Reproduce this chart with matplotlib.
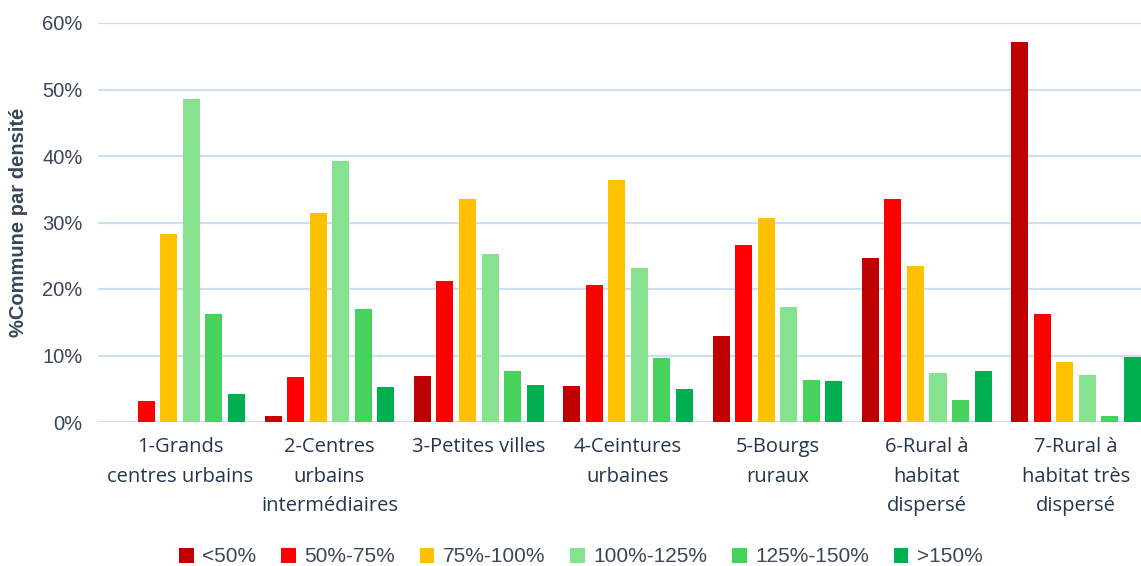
import matplotlib.pyplot as plt
import numpy as np

categories = ['1-Grands\ncentres urbains', '2-Centres\nurbains\nintermédiaires',
              '3-Petites villes', '4-Ceintures\nurbaines', '5-Bourgs\nruraux',
              '6-Rural à\nhabitat\ndispersé', '7-Rural à\nhabitat très\ndispersé']
series = ['<50%', '50%-75%', '75%-100%', '100%-125%', '125%-150%', '>150%']
colors = ['#C00000', '#FF0000', '#FFC000', '#87E28F', '#46D35B', '#00B050']

# % of communes per density band, one list per band (across the 7 categories)
values = [
    [0.0, 0.9, 6.9, 5.4, 12.9, 24.7, 57.1],
    [3.1, 6.7, 21.2, 20.6, 26.6, 33.5, 16.2],
    [28.2, 31.4, 33.5, 36.4, 30.7, 23.5, 9.0],
    [48.5, 39.2, 25.3, 23.1, 17.3, 7.3, 7.1],
    [16.2, 17.0, 7.7, 9.6, 6.3, 3.3, 0.9],
    [4.2, 5.2, 5.6, 5.0, 6.2, 7.7, 9.8],
]

text_col = '#3A4658'
cat_col = '#24364D'
grid_col = '#CDDFF3'

fig = plt.figure(figsize=(11.41, 5.66), dpi=100)
ax = fig.add_axes([98 / 1141, 1 - 422 / 566, 1 - 98 / 1141, (422 - 23) / 566])

x = np.arange(len(categories))
step = 0.151
width = 0.114
for i, (name, vals, c) in enumerate(zip(series, values, colors)):
    ax.bar(x + (i - 2.5) * step, np.array(vals) / 100, width, color=c, label=name, zorder=3)

ax.set_ylim(0, 0.6)
ax.set_xlim(-0.55, 6.435)
ax.set_yticks(np.arange(0, 0.61, 0.1))
ax.set_yticklabels([f'{int(round(v * 100))}%' for v in np.arange(0, 0.61, 0.1)],
                   fontsize=14.5, color=text_col, family='Liberation Sans')
ax.set_xticks(x)
ax.set_xticklabels(categories, fontsize=14.5, color=cat_col, family='Open Sans', linespacing=1.62)
ax.tick_params(axis='both', length=0)
ax.tick_params(axis='y', pad=11)
ax.tick_params(axis='x', pad=11)
ax.grid(axis='y', color=grid_col, linewidth=1.6, zorder=0)
for s in ax.spines.values():
    s.set_visible(False)

fig.text(19 / 1141, 1 - 222 / 566, '%Commune par densité', rotation=90, ha='center',
         va='center', fontsize=14.5, fontweight='bold', color=text_col, family='Liberation Sans')

fig.legend(loc='center', bbox_to_anchor=(0.509, 1 - 557 / 566), ncol=6, frameon=False,
           prop={'family': 'Liberation Sans', 'size': 15}, labelcolor=text_col,
           handlelength=0.7, handleheight=0.7, handletextpad=0.4, columnspacing=1.2)

fig.savefig('out.png', dpi=100)
